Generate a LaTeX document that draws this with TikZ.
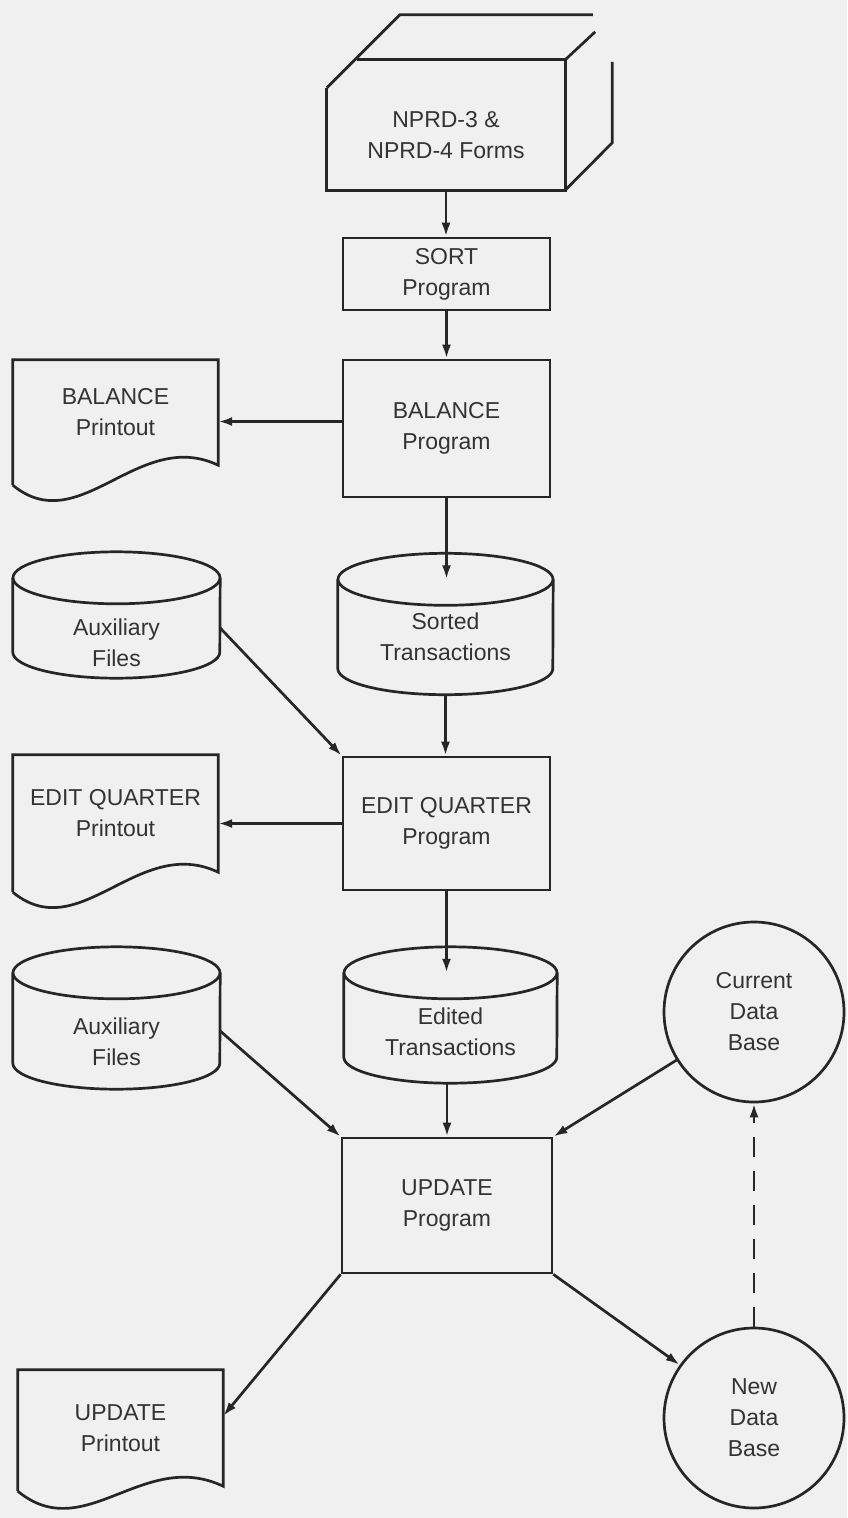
\documentclass[tikz,border=0pt]{standalone}
\usepackage{fontspec}
\setmainfont{Liberation Sans}
\usetikzlibrary{positioning,arrows.meta,calc}

\begin{document}
\begin{tikzpicture}[x=1pt, y=1pt,
  txt/.style={font=\fontsize{23}{31}\selectfont, text=black!80, align=center, inner sep=0pt},
  line/.style={draw=black!85, line width=2.7pt},
  prog/.style={txt, line, rectangle, minimum width=207},
  printout/.style={txt, rectangle, minimum width=205},
  files/.style={txt, rectangle},
  store/.style={txt, line, circle, minimum size=180},
  arrow/.style={line, -{Latex[length=14pt, width=9pt]}},
]
\fill[black!6] (0,0) rectangle (847,-1518);
\useasboundingbox (0,0) rectangle (847,-1518);
% --- main column ---
\node[txt, rectangle, minimum width=238, minimum height=130, label={[txt, name=formstxt, yshift=-10]center:{NPRD-3 \&\\NPRD-4 Forms}}] (forms) at (446,-125) {};
\node[prog, minimum height=72] (sort) at (446.5,-274) {SORT\\Program};
\node[prog, minimum height=137] (bal) at (446.5,-428.5) {BALANCE\\Program};
\node[files, minimum width=215, minimum height=115] (sorted) at (445.5,-637) {Sorted\\Transactions};
\node[prog, minimum height=133] (edq) at (446.5,-823.5) {EDIT QUARTER\\Program};
\node[files, minimum width=213, minimum height=110, label={[txt, name=editedtxt, yshift=-4]center:{Edited\\Transactions}}] (edited) at (450.5,-1028) {};
\node[prog, minimum width=210, minimum height=135] (upd) at (447,-1205.5) {UPDATE\\Program};
% --- left column ---
\node[printout, minimum height=105] (balout) at (115.5,-412.5) {BALANCE\\Printout};
\node[files, minimum width=207, minimum height=100, label={[txt, name=aux1txt, yshift=-15]center:{Auxiliary\\Files}}] (aux1) at (116.5,-628) {};
\node[printout, minimum height=117] (edqout) at (115.5,-813.5) {EDIT QUARTER\\Printout};
\node[files, minimum width=207, minimum height=116, label={[txt, name=aux2txt, yshift=-11]center:{Auxiliary\\Files}}] (aux2) at (116.5,-1031) {};
\node[printout, minimum height=116] (updout) at (120.5,-1428) {UPDATE\\Printout};
% --- data bases ---
\node[store] (cur) at (754,-1012) {Current\\Data\\Base};
\node[store] (new) at (754,-1418) {New\\Data\\Base};
% --- outlines ---
\draw[line] ($(forms.north west)+(0,-28)$) -- (forms.south west) -- (forms.south east) -- (forms.north east) -- ($(forms.north west)+(30,0)$);
\draw[line] ($(forms.north west)+(0,-28)$) -- ++(73,73) -- ++(193,0);
\draw[line] (forms.north east) -- ++(30,28);
\draw[line] ($(forms.north east)+(47,-2)$) -- ++(0,-81) -- (forms.south east);
\foreach \doc/\drop in {balout/20, edqout/20, updout/5}
  \draw[line] ($(\doc.south west)+(0,-\drop)$) -- (\doc.north west) -- (\doc.north east) -- (\doc.south east)
    .. controls ($(\doc.south east)+(-80,38)$) and ($(\doc.south west)+(67,-\drop-55)$) .. ($(\doc.south west)+(0,-\drop)$);
\foreach \cyl/\rx in {sorted/107.5, edited/106.5, aux1/103.5, aux2/103.5} {
  \draw[line] (\cyl.north west) -- ($(\cyl.south west)+(0,26)$) arc[start angle=180, end angle=360, x radius=\rx pt, y radius=26pt] -- (\cyl.north east);
  \draw[line] (\cyl.north) ellipse[x radius=\rx pt, y radius=26pt];
}
% --- flow ---
\draw[arrow] (forms.south) -- (forms.south |- sort.north);
\draw[arrow] (sort.south) -- (bal.north);
\draw[arrow] ([yshift=7]bal.west) -- ([yshift=7]bal.west -| balout.east);
\draw[arrow] (bal.south) -- (bal.south |- sorted.north);
\draw[arrow] (sorted.south) -- (sorted.south |- edq.north);
\draw[arrow] (aux1.east) -- (edq.north west);
\draw[arrow] (edq.west) -- (edq.west -| edqout.east);
\draw[arrow] (edq.south) -- (edq.south |- edited.north);
\draw[arrow] (upd.north |- edited.south) -- (upd.north);
\draw[arrow] (aux2.east) -- (upd.north west);
\draw[arrow] (cur) -- (upd.north east);
\draw[arrow] (upd.south west) -- ([yshift=12]updout.east);
\draw[arrow] (upd.south east) -- (new);
\draw[arrow, dash pattern=on 20pt off 14pt] (new.north) -- (cur.south);
\end{tikzpicture}
\end{document}
